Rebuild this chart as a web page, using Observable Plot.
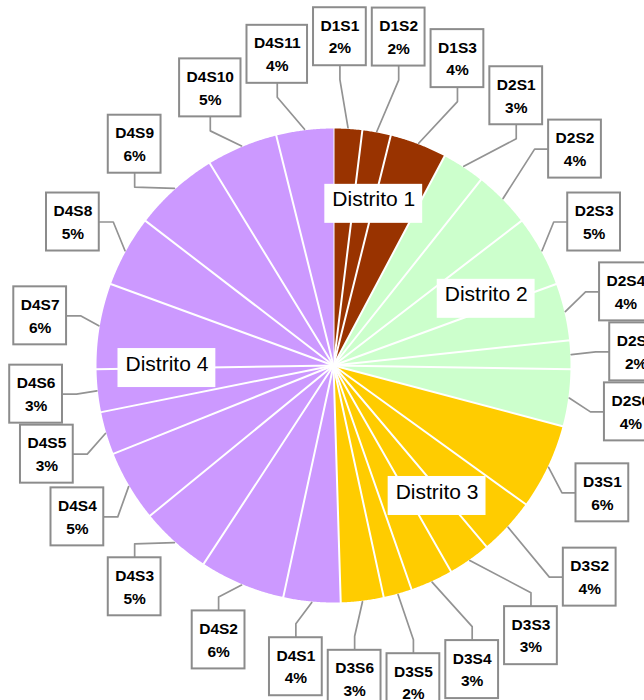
<!DOCTYPE html>
<html><head><meta charset="utf-8">
<script src="https://cdn.jsdelivr.net/npm/d3@7"></script>
<script src="https://cdn.jsdelivr.net/npm/@observablehq/plot@0.6"></script>
<style>html,body{margin:0;padding:0;background:#fff;overflow:hidden}</style>
</head><body><div id="chart"></div>
<script>
// ---- data ----
const districts = ["Distrito 1", "Distrito 2", "Distrito 3", "Distrito 4"];
const districtColors = ["#993300", "#ccffcc", "#ffcc00", "#cc99ff"];
const sectors = ["D1S1","D1S2","D1S3",
  "D2S1","D2S2","D2S3","D2S4","D2S5","D2S6",
  "D3S1","D3S2","D3S3","D3S4","D3S5","D3S6",
  "D4S1","D4S2","D4S3","D4S4","D4S5","D4S6","D4S7","D4S8","D4S9","D4S10","D4S11"];
const sectorDistrict = [0,0,0, 1,1,1,1,1,1, 2,2,2,2,2,2, 3,3,3,3,3,3,3,3,3,3,3];
const sectorPercent = [2,2,4, 3,4,5,4,2,4, 6,4,3,3,2,3, 4,6,5,5,3,3,6,5,6,5,4];

// ---- layout ----
const W = 644, H = 700, CX = 333, CY = 365, R = 238;
const FONT = '"Liberation Sans", Arial, Helvetica, sans-serif';
const ctx = document.createElement("canvas").getContext("2d");
function textWidth(t, font) { ctx.font = font; return ctx.measureText(t).width; }

const rows = sectors.map((s, i) => ({sector: s, district: districts[sectorDistrict[i]], value: sectorPercent[i]}));
const arcs = d3.pie().sort(null).value(d => d.value)(rows);
const px = a => CX + R * Math.sin(a), py = a => CY - R * Math.cos(a);

// wedge polygons
const wedgePts = [];
arcs.forEach(a => {
  const d = a.data;
  wedgePts.push({sector: d.sector, district: d.district, x: CX, y: CY});
  const n = Math.max(2, Math.ceil((a.endAngle - a.startAngle) / 0.005));
  for (let k = 0; k <= n; k++) {
    const t = a.startAngle + (a.endAngle - a.startAngle) * k / n;
    wedgePts.push({sector: d.sector, district: d.district, x: px(t), y: py(t)});
  }
});

// label boxes: start at 1.25 R on each slice's mid angle, then resolve overlaps
const LFONT = `bold 15.5px ${FONT}`;
const nodes = arcs.map(a => {
  const m = (a.startAngle + a.endAngle) / 2;
  const d = a.data;
  const w = Math.max(textWidth(d.sector, LFONT), textWidth(d.value + "%", LFONT)) + 14;
  const tx = CX + 1.25 * R * Math.sin(m), ty = CY - 1.25 * R * Math.cos(m);
  return {sector: d.sector, value: d.value, ax: px(m), ay: py(m), ux: Math.sin(m), uy: -Math.cos(m), tx, ty, x: tx, y: ty, w, h: 58};
});
const PADX = 6, PADY = 2;
for (let it = 0; it < 3000; it++) {
  const k = it < 2500 ? 0.004 : 0;
  const f = nodes.map(() => [0, 0]);
  for (let i = 0; i < nodes.length; i++) for (let j = i + 1; j < nodes.length; j++) {
    const A = nodes[i], B = nodes[j];
    const dx = B.x - A.x, dy = B.y - A.y;
    const ox = (A.w + B.w) / 2 + PADX - Math.abs(dx);
    const oy = (A.h + B.h) / 2 + PADY - Math.abs(dy);
    if (ox > 0 && oy > 0) {
      const o = Math.min(ox, oy);
      if (ox < oy) { const s = Math.sign(dx) || 1; f[i][0] -= s * o * 0.1; f[j][0] += s * o * 0.1; }
      else { const s = Math.sign(dy) || 1; f[i][1] -= s * o * 0.1; f[j][1] += s * o * 0.1; }
      // crowded pairs also drift outward, away from the pie
      for (const [idx, N] of [[i, A], [j, B]]) { f[idx][0] += N.ux * o * 0.05; f[idx][1] += N.uy * o * 0.05; }
    }
  }
  nodes.forEach((N, i) => {
    N.x += f[i][0] + (N.tx - N.x) * k;
    N.y += f[i][1] + (N.ty - N.y) * k;
    const qx = Math.max(N.x - N.w / 2, Math.min(CX, N.x + N.w / 2));
    const qy = Math.max(N.y - N.h / 2, Math.min(CY, N.y + N.h / 2));
    const dist = Math.hypot(qx - CX, qy - CY);
    if (dist < R + 18) {
      const vx = N.x - CX, vy = N.y - CY, vd = Math.hypot(vx, vy);
      N.x += vx / vd * (R + 18 - dist) * 0.3; N.y += vy / vd * (R + 18 - dist) * 0.3;
    }
  });
}
const EL = 14;
const leaderPts = [];
nodes.forEach(N => {
  const vx = N.ax - N.x, vy = N.ay - N.y;
  let sx, sy, ex, ey;
  if (Math.abs(vx) / N.w > Math.abs(vy) / N.h) {
    const sg = Math.sign(vx); sx = N.x + sg * N.w / 2; sy = N.y; ex = sx + sg * EL; ey = sy;
  } else {
    const sg = Math.sign(vy); sx = N.x; sy = N.y + sg * N.h / 2; ex = sx; ey = sy + sg * EL;
  }
  leaderPts.push({sector: N.sector, x: N.ax, y: N.ay}, {sector: N.sector, x: ex, y: ey}, {sector: N.sector, x: sx, y: sy});
});

// district labels
const DFONT = `21px ${FONT}`;
const dLabels = districts.map((name, i) => {
  const as = arcs.filter(a => a.data.district === name);
  const m = (as[0].startAngle + as[as.length - 1].endAngle) / 2;
  const x = CX + 0.7 * R * Math.sin(m), y = CY - 0.7 * R * Math.cos(m);
  return {name, x, y, w: textWidth(name, DFONT) + 15, h: 39};
});

const chart = Plot.plot({
  width: W, height: H, margin: 0,
  x: {domain: [0, W], range: [0, W], axis: null},
  y: {domain: [0, H], range: [0, H], axis: null},
  color: {domain: districts, range: districtColors},
  style: {fontFamily: FONT, background: "white"},
  marks: [
    Plot.line(wedgePts, {x: "x", y: "y", z: "sector", fill: "district", stroke: "white", strokeWidth: 2, strokeLinejoin: "round"}),
    Plot.line(leaderPts, {x: "x", y: "y", z: "sector", stroke: "#939393", strokeWidth: 1.7}),
    Plot.rect(nodes, {x1: d => d.x - d.w / 2, x2: d => d.x + d.w / 2, y1: d => d.y - d.h / 2, y2: d => d.y + d.h / 2, fill: "white", stroke: "#8c8c8c", strokeWidth: 2}),
    Plot.text(nodes, {x: "x", y: d => d.y - 10.8, text: "sector", fontWeight: "bold", fontSize: 15.5, fill: "black"}),
    Plot.text(nodes, {x: "x", y: d => d.y + 11.8, text: d => d.value + "%", fontWeight: "bold", fontSize: 15.5, fill: "black"}),
    Plot.rect(dLabels, {x1: d => d.x - d.w / 2, x2: d => d.x + d.w / 2, y1: d => d.y - d.h / 2, y2: d => d.y + d.h / 2, fill: "white"}),
    Plot.text(dLabels, {x: "x", y: d => d.y - 4.2, text: "name", fontSize: 21, fill: "black"})
  ]
});
document.getElementById("chart").appendChild(chart);
</script>
</body></html>
